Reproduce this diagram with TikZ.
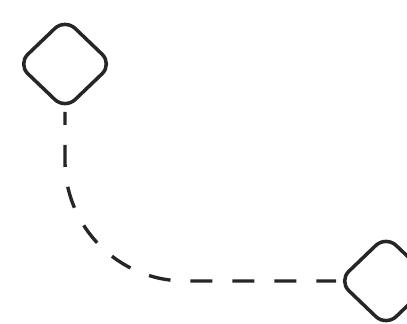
\documentclass[tikz,border=0pt]{standalone}
\usepackage{xcolor}
\usepackage{tikz}
\usetikzlibrary{shapes.geometric}
\definecolor{inkgray}{HTML}{262626}

\begin{document}
\begin{tikzpicture}[
  gate/.style={diamond,draw=inkgray,line width=2.5pt,rounded corners=10pt,
    minimum width=2.4cm,minimum height=2.3cm,inner sep=0pt},
  flow/.style={draw=inkgray,line width=2.4pt,dash pattern=on 0.55cm off 0.5cm,
    dash phase=0.22cm,rounded corners=3cm}]
\clip (0,0) rectangle (10.175,8.1);
\fill[white] (0,0) rectangle (10.175,8.1);
\node[gate] (start) at (1.625,6.5) {};
\node[gate] (join) at (9.65,1.075) {};
\draw[flow] (start.south) |- (join.west);
\end{tikzpicture}
\end{document}
